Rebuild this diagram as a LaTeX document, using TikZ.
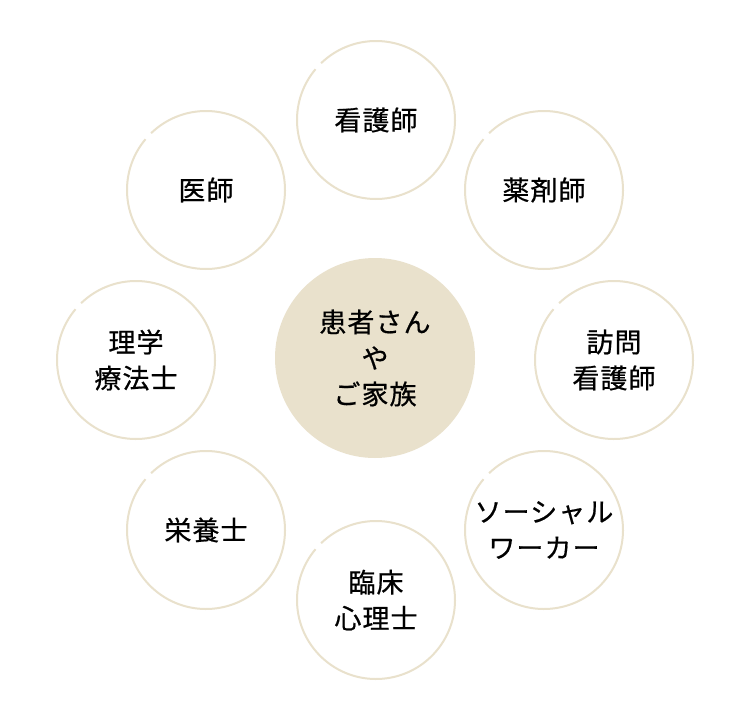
\documentclass[tikz,border=0pt]{standalone}
\usepackage{fontspec}
\newfontfamily\jpfont[LetterSpace=4,FakeBold=0.6]{Noto Sans CJK JP}
\definecolor{beige}{HTML}{E9E1CC}
\tikzset{
  role/.style={circle, minimum size=160pt, inner sep=0pt, outer sep=0pt, align=center, font=\jpfont\fontsize{27pt}{36pt}\selectfont, text=black},
  ring/.style={draw=beige, line width=2pt},
  hub/.style={circle, fill=beige, minimum size=200pt, inner sep=0pt, outer sep=0pt, align=center, font=\jpfont\fontsize{27pt}{36pt}\selectfont, text=black}
}
\begin{document}
\begin{tikzpicture}[x=1pt,y=-1pt]
\useasboundingbox[fill=white] (0,0) rectangle (750,720);
\node[hub] (c) at (375,358) {患者さん\\や\\ご家族};
\node[role] (n1) at (376,120) {看護師};
\node[role] (n2) at (544,190) {薬剤師};
\node[role] (n3) at (614,360) {訪問\\看護師};
\node[role] (n4) at (544,530) {ソーシャル\\ワーカー};
\node[role] (n5) at (376,600) {臨床\\心理士};
\node[role] (n6) at (206,530) {栄養士};
\node[role] (n7) at (136,360) {理学\\療法士};
\node[role] (n8) at (206,190) {医師};
\foreach \n in {n1,n2,n3,n4,n5,n6,n7,n8}
  \draw[ring] ([shift={(-140:-1)}]\n.140) arc[start angle=-140, delta angle=-354, radius=79];
\end{tikzpicture}
\end{document}
